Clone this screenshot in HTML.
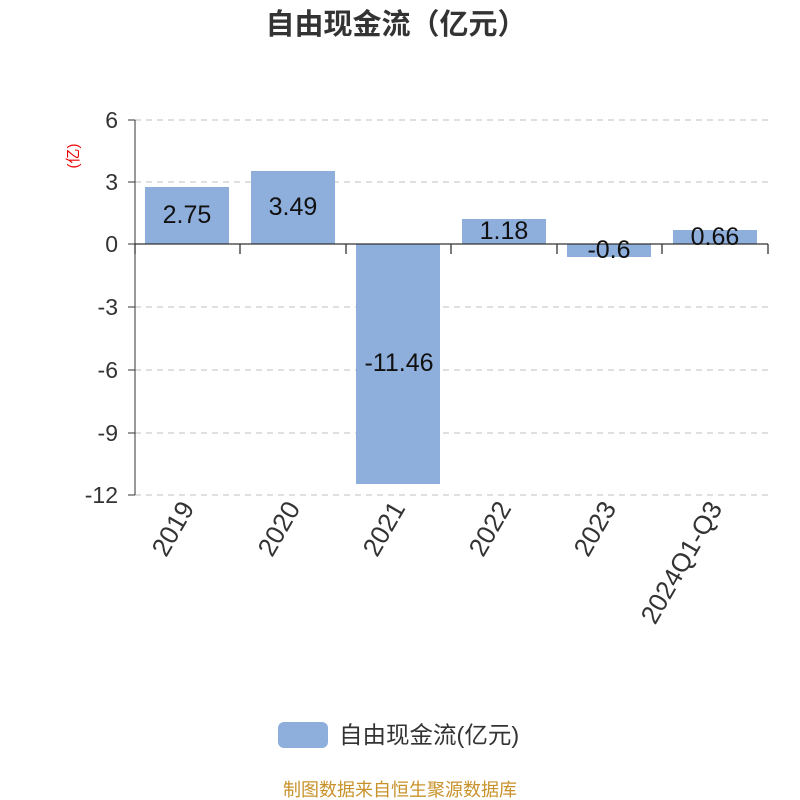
<!DOCTYPE html>
<html><head><meta charset="utf-8"><style>
body{margin:0;background:#fff}
svg{display:block}
text{font-family:"Liberation Sans","Noto Sans CJK SC",sans-serif}
</style></head><body>
<svg width="800" height="800" xmlns="http://www.w3.org/2000/svg">
<rect width="800" height="800" fill="#fff"/>
<text x="396" y="34" text-anchor="middle" font-size="29" font-weight="bold" fill="#333">自由现金流（亿元）</text>
<g stroke="#ccc" stroke-width="1.2" stroke-dasharray="6,5">
<line x1="135" y1="120" x2="768" y2="120"/>
<line x1="135" y1="182" x2="768" y2="182"/>
<line x1="135" y1="307" x2="768" y2="307"/>
<line x1="135" y1="370" x2="768" y2="370"/>
<line x1="135" y1="433" x2="768" y2="433"/>
<line x1="135" y1="495" x2="768" y2="495"/>
</g>
<g fill="#333" font-size="23" text-anchor="end">
<text x="118" y="128">6</text>
<text x="118" y="190">3</text>
<text x="118" y="252">0</text>
<text x="118" y="315">-3</text>
<text x="118" y="378">-6</text>
<text x="118" y="441">-9</text>
<text x="118" y="503">-12</text>
</g>
<g stroke="#333" stroke-width="1">
<line x1="128" y1="120" x2="135" y2="120"/>
<line x1="128" y1="182" x2="135" y2="182"/>
<line x1="128" y1="244" x2="135" y2="244"/>
<line x1="128" y1="307" x2="135" y2="307"/>
<line x1="128" y1="370" x2="135" y2="370"/>
<line x1="128" y1="433" x2="135" y2="433"/>
<line x1="128" y1="495" x2="135" y2="495"/>
<line x1="135" y1="120" x2="135" y2="495"/>
</g>
<text transform="translate(78,156) rotate(-90)" text-anchor="middle" font-size="15" fill="#e00">(亿)</text>
<g fill="#8eaedb">
<rect x="145" y="187" width="84" height="57"/>
<rect x="251" y="171" width="84" height="73"/>
<rect x="356" y="244" width="84" height="240"/>
<rect x="462" y="219" width="84" height="25"/>
<rect x="567" y="244" width="84" height="13"/>
<rect x="673" y="230" width="84" height="14"/>
</g>
<g stroke="#333" stroke-width="1.3">
<line x1="135" y1="244" x2="768" y2="244"/>
<line x1="135" y1="244" x2="135" y2="254"/>
<line x1="240" y1="244" x2="240" y2="254"/>
<line x1="346" y1="244" x2="346" y2="254"/>
<line x1="451" y1="244" x2="451" y2="254"/>
<line x1="557" y1="244" x2="557" y2="254"/>
<line x1="662" y1="244" x2="662" y2="254"/>
<line x1="768" y1="244" x2="768" y2="254"/>
</g>
<g fill="#111" font-size="25" text-anchor="middle">
<text x="187" y="223">2.75</text>
<text x="293" y="215">3.49</text>
<text x="399" y="371">-11.46</text>
<text x="504" y="239">1.18</text>
<text x="609" y="258">-0.6</text>
<text x="715" y="245">0.66</text>
</g>
<g fill="#333" font-size="26" text-anchor="end">
<text transform="translate(195,508) rotate(-60)">2019</text>
<text transform="translate(301,508) rotate(-60)">2020</text>
<text transform="translate(406,508) rotate(-60)">2021</text>
<text transform="translate(512,508) rotate(-60)">2022</text>
<text transform="translate(617,508) rotate(-60)">2023</text>
<text transform="translate(723,508) rotate(-60)">2024Q1-Q3</text>
</g>
<rect x="278" y="722" width="50" height="26" rx="6" fill="#8eaedb"/>
<text x="339" y="743" font-size="23.5" fill="#333">自由现金流(亿元)</text>
<text x="400" y="796" text-anchor="middle" font-size="18" fill="#c8922a">制图数据来自恒生聚源数据库</text>
</svg>
</body></html>
